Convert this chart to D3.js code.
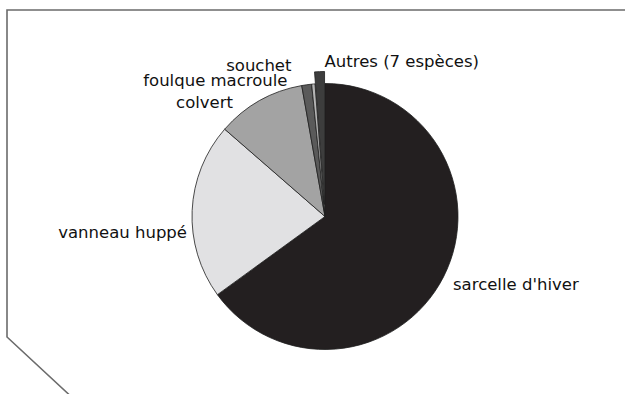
<!DOCTYPE html>
<html>
<head>
<meta charset="utf-8">
<script src="https://cdn.jsdelivr.net/npm/d3@7"></script>
<style>
  html, body { margin: 0; padding: 0; background: #fff; }
  svg { display: block; }
  text { font-family: "DejaVu Sans", Verdana, sans-serif; font-size: 16.5px; fill: #111; }
</style>
</head>
<body>
<svg id="chart" width="625" height="394"></svg>
<script>
// Species shares (%) of the bag, clockwise from 12 o'clock
const species = ["sarcelle d'hiver", "vanneau huppé", "colvert", "foulque macroule", "souchet", "Autres (7 espèces)"];
const shares  = [65.0, 21.4, 10.8, 1.2, 0.4, 1.2];
const fills   = ["#231f20", "#e1e1e3", "#a3a3a3", "#5a5a5a", "#b5b5b5", "#3d3d3d"];
const exploded = [false, false, false, false, false, true];

const W = 625, H = 394;
const cx = 325, cy = 216.5, r = 133;
const explodeDist = 12;

// label anchors relative to the pie centre
const labelLayout = {
  "sarcelle d'hiver":   { dx: 128,   dy: 73.5,   anchor: "start" },
  "vanneau huppé":      { dx: -138,  dy: 21.5,   anchor: "end" },
  "colvert":            { dx: -92,   dy: -108.5, anchor: "end" },
  "foulque macroule":   { dx: -37.5, dy: -131,   anchor: "end" },
  "souchet":            { dx: -33.5, dy: -145.5, anchor: "end" },
  "Autres (7 espèces)": { dx: -0.5,  dy: -149.5, anchor: "start" }
};

const svg = d3.select("#chart");

// outer frame with clipped lower-left corner
svg.append("path")
  .attr("d", d3.line()([[W + 5, 10], [7, 10], [7, 337], [69, 394.5]]))
  .attr("fill", "none")
  .attr("stroke", "#6b6b6b")
  .attr("stroke-width", 1.6);

const data = species.map((s, i) => ({ name: s, value: shares[i], fill: fills[i], out: exploded[i] }));

const pie = d3.pie().value(d => d.value).sort(null);
const arc = d3.arc().innerRadius(0).outerRadius(r);
const arcs = pie(data);

const g = svg.append("g").attr("transform", `translate(${cx},${cy})`);

g.selectAll("path.slice")
  .data(arcs)
  .join("path")
  .attr("class", "slice")
  .attr("d", arc)
  .attr("fill", d => d.data.fill)
  .attr("stroke", "#1e1e1e")
  .attr("stroke-width", 0.8)
  .attr("stroke-linejoin", "round")
  .attr("transform", d => {
    if (!d.data.out) return null;
    const a = (d.startAngle + d.endAngle) / 2;
    return `translate(${Math.sin(a) * explodeDist},${-Math.cos(a) * explodeDist})`;
  });

g.selectAll("text.lbl")
  .data(arcs)
  .join("text")
  .attr("class", "lbl")
  .attr("x", d => labelLayout[d.data.name].dx)
  .attr("y", d => labelLayout[d.data.name].dy)
  .attr("text-anchor", d => labelLayout[d.data.name].anchor)
  .text(d => d.data.name);
</script>
</body>
</html>
